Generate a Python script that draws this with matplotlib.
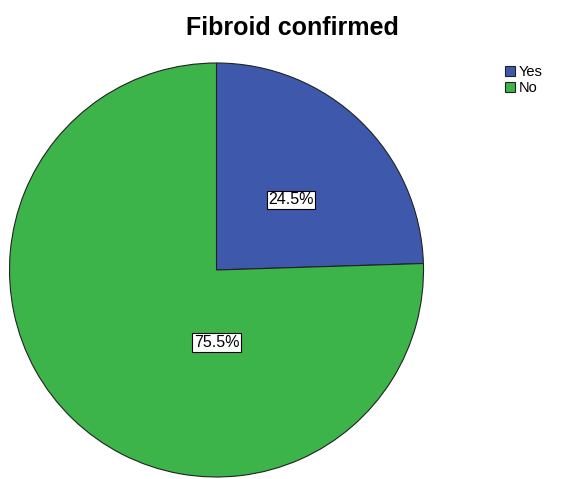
import matplotlib.pyplot as plt
from matplotlib.patches import Patch

plt.rcParams['font.family'] = ['Liberation Sans', 'DejaVu Sans']

labels = ['Yes', 'No']
values = [24.5, 75.5]
colors = ['#3E58AC', '#3CB44A']

fig = plt.figure(figsize=(5.61, 4.79), dpi=100)
ax = fig.add_axes([9 / 561, 2 / 479, 415 / 561, 414 / 479])

wedges, _ = ax.pie(values, colors=colors, startangle=90, counterclock=False,
                   wedgeprops=dict(edgecolor='#222222', linewidth=0.8))
ax.set_xlim(-1.0, 1.0)
ax.set_ylim(-1.0, 1.0)
ax.set_aspect('equal')

# SPSS-style label spots, not at mid angle
label_pos = [(0.36, 0.34), (0.0, -0.35)]
for v, (x, y) in zip(values, label_pos):
    ax.text(x, y, '%.1f%%' % v, ha='center', va='center', fontsize=11.5,
            bbox=dict(boxstyle='square,pad=0.1', facecolor='white',
                      edgecolor='black', linewidth=0.8))

fig.text(292 / 561, 1 - 28 / 479, 'Fibroid confirmed', ha='center', va='center',
         fontsize=18, fontweight='bold')

handles = [Patch(facecolor=c, edgecolor='#222222', linewidth=0.8) for c in colors]
fig.legend(handles, labels, loc='upper left', bbox_to_anchor=(505 / 561, 1 - 65 / 479),
           frameon=False, fontsize=10.5, handlelength=0.7, handleheight=0.7,
           handletextpad=0.25, labelspacing=0.15, borderpad=0, borderaxespad=0)

fig.savefig('out.png', dpi=100)
